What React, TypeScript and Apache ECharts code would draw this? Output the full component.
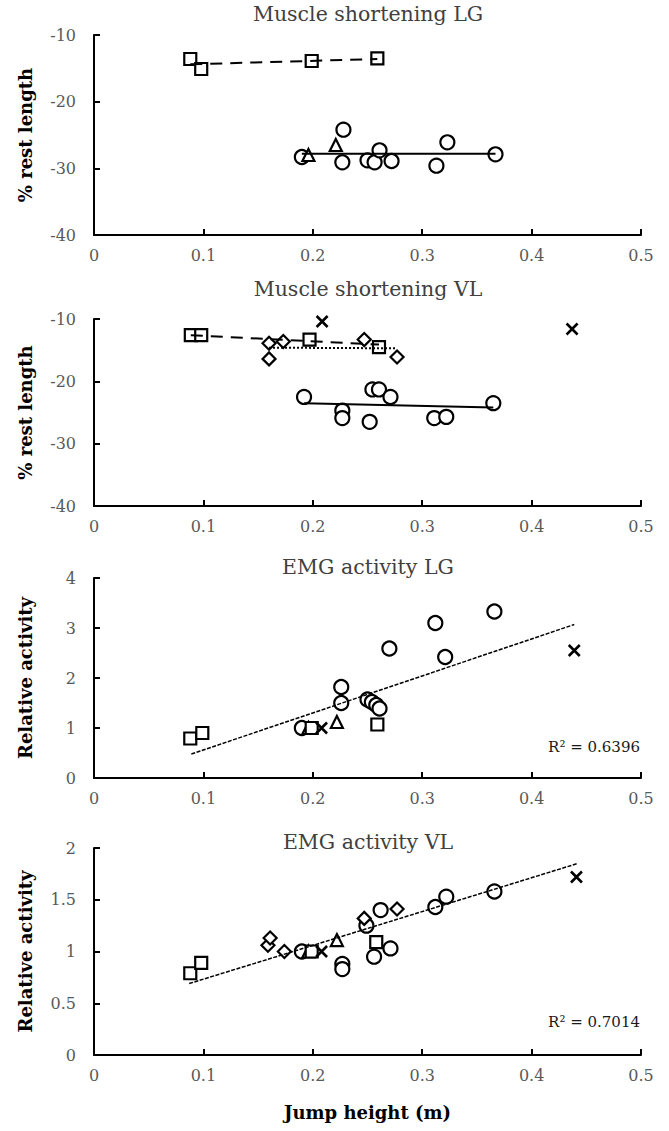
import React, { useEffect, useRef } from "react";
import * as echarts from "echarts";

// ---- Data ----
const PANEL_TITLES = ["Muscle shortening LG", "Muscle shortening VL", "EMG activity LG", "EMG activity VL"];
const Y_NAMES = ["% rest length", "% rest length", "Relative activity", "Relative activity"];
const X_NAME = "Jump height (m)";
const R2_LABELS = ["R² = 0.6396", "R² = 0.7014"];

// Panel 1: Muscle shortening LG
const lgShortSquares = [[0.088, -13.6], [0.098, -15.1], [0.199, -13.9], [0.259, -13.5]];
const lgShortCircles = [[0.19, -28.3], [0.228, -24.2], [0.227, -29.1], [0.25, -28.8], [0.2565, -29.1], [0.261, -27.3], [0.272, -28.9], [0.313, -29.6], [0.323, -26.1], [0.367, -27.9]];
const lgShortTriangles = [[0.196, -28.0], [0.221, -26.5]];
const lgShortSquareTrend = [[0.088, -14.4], [0.259, -13.6]];
const lgShortCircleTrend = [[0.19, -27.8], [0.367, -27.8]];

// Panel 2: Muscle shortening VL
const vlShortSquares = [[0.0885, -12.6], [0.098, -12.6], [0.197, -13.3], [0.2605, -14.5]];
const vlShortCircles = [[0.192, -22.5], [0.227, -24.7], [0.227, -25.9], [0.252, -26.5], [0.2545, -21.3], [0.2605, -21.3], [0.271, -22.5], [0.311, -25.9], [0.322, -25.7], [0.365, -23.5]];
const vlShortDiamonds = [[0.16, -13.9], [0.16, -16.4], [0.173, -13.6], [0.247, -13.3], [0.277, -16.1]];
const vlShortCrosses = [[0.2085, -10.4], [0.437, -11.6]];
const vlShortSquareTrend = [[0.0885, -12.6], [0.2605, -14.1]];
const vlShortDiamondTrend = [[0.16, -14.6], [0.277, -14.7]];
const vlShortCircleTrend = [[0.192, -23.5], [0.365, -24.2]];

// Panel 3: EMG activity LG
const lgEmgSquares = [[0.088, 0.79], [0.099, 0.9], [0.199, 1.0], [0.259, 1.07]];
const lgEmgCircles = [[0.19, 1.0], [0.226, 1.82], [0.226, 1.5], [0.25, 1.57], [0.254, 1.52], [0.258, 1.46], [0.261, 1.39], [0.27, 2.59], [0.312, 3.1], [0.321, 2.42], [0.366, 3.33]];
const lgEmgTriangles = [[0.196, 1.0], [0.222, 1.12]];
const lgEmgCrosses = [[0.208, 1.0], [0.439, 2.55]];
const lgEmgTrend = [[0.089, 0.48], [0.439, 3.07]];

// Panel 4: EMG activity VL
const vlEmgSquares = [[0.088, 0.79], [0.098, 0.89], [0.199, 1.0], [0.258, 1.09]];
const vlEmgCircles = [[0.19, 1.0], [0.227, 0.88], [0.227, 0.83], [0.249, 1.25], [0.256, 0.95], [0.262, 1.4], [0.271, 1.03], [0.312, 1.43], [0.322, 1.53], [0.366, 1.58]];
const vlEmgTriangles = [[0.196, 1.0], [0.222, 1.11]];
const vlEmgDiamonds = [[0.159, 1.06], [0.161, 1.13], [0.174, 1.0], [0.247, 1.32], [0.277, 1.41]];
const vlEmgCrosses = [[0.208, 1.0], [0.441, 1.72]];
const vlEmgTrend = [[0.087, 0.69], [0.442, 1.85]];

// ---- Styling ----
const SERIF = "DejaVu Serif";
const GRIDS = [
  { left: 94, width: 547, top: 35, height: 200 },
  { left: 94, width: 547, top: 319, height: 187 },
  { left: 94, width: 547, top: 578, height: 200 },
  { left: 94, width: 547, top: 848, height: 207 },
];
const Y_RANGES = [
  { min: -40, max: -10, interval: 10 },
  { min: -40, max: -10, interval: 10 },
  { min: 0, max: 4, interval: 1 },
  { min: 0, max: 2, interval: 0.5 },
];
const TITLE_Y = [14, 289, 567, 842];
const R2_Y = [747, 1022];

const CROSS = "path://M0,0L10,10M10,0L0,10";

function scatter(idx: number, data: number[][], symbol: string, size: number) {
  const isCross = symbol === CROSS;
  return {
    type: "scatter",
    xAxisIndex: idx,
    yAxisIndex: idx,
    data,
    symbol,
    symbolSize: size,
    z: 2,
    itemStyle: {
      color: isCross ? "none" : "#ffffff",
      borderColor: "#000000",
      borderWidth: isCross ? 2.6 : 2.2,
      opacity: 1,
    },
  };
}

function trend(idx: number, data: number[][], type: any, width: number) {
  return {
    type: "line",
    xAxisIndex: idx,
    yAxisIndex: idx,
    data,
    symbol: "none",
    showSymbol: false,
    z: 3,
    lineStyle: { color: "#000000", width, type },
  };
}

export default function App() {
  const ref = useRef<HTMLDivElement>(null);
  useEffect(() => {
    if (!ref.current) return;
    const chart = echarts.init(ref.current, undefined, { renderer: "svg" });
    const fmt = (v: number) => String(Math.round(v * 10) / 10);
    const option: any = {
      animation: false,
      backgroundColor: "#ffffff",
      grid: GRIDS.map((g) => ({ ...g, containLabel: false })),
      xAxis: GRIDS.map((_, i) => ({
        type: "value",
        gridIndex: i,
        min: 0,
        max: 0.5,
        interval: 0.1,
        splitLine: { show: false },
        axisLine: { show: true, onZero: false, lineStyle: { color: "#000", width: 2 } },
        axisTick: { show: true, inside: true, length: 6, lineStyle: { color: "#000", width: 2 } },
        axisLabel: { color: "#595959", fontFamily: SERIF, fontSize: 16, margin: 12, formatter: fmt },
        name: i === 3 ? X_NAME : "",
        nameLocation: "middle",
        nameGap: 48,
        nameTextStyle: { fontFamily: SERIF, fontWeight: "bold", fontSize: 18, color: "#000" },
      })),
      yAxis: GRIDS.map((_, i) => ({
        type: "value",
        gridIndex: i,
        ...Y_RANGES[i],
        splitLine: { show: false },
        axisLine: { show: true, onZero: false, lineStyle: { color: "#000", width: 2 } },
        axisTick: { show: true, inside: true, length: 6, lineStyle: { color: "#000", width: 2 } },
        axisLabel: { color: "#595959", fontFamily: SERIF, fontSize: 16, margin: 18, formatter: fmt },
        name: Y_NAMES[i],
        nameLocation: "middle",
        nameGap: 60,
        nameTextStyle: { fontFamily: SERIF, fontWeight: "bold", fontSize: 18, color: "#000" },
      })),
      graphic: [
        ...PANEL_TITLES.map((t, i) => ({
          type: "text",
          x: 368,
          y: TITLE_Y[i],
          style: { text: t, align: "center", verticalAlign: "middle", font: `20.5px "${SERIF}"`, fill: "#404040" },
        })),
        ...R2_LABELS.map((t, i) => ({
          type: "text",
          x: 640,
          y: R2_Y[i],
          style: { text: t, align: "right", verticalAlign: "middle", font: `15px "${SERIF}"`, fill: "#1a1a1a" },
        })),
      ],
      series: [
        scatter(0, lgShortCircles, "circle", 14),
        scatter(0, lgShortTriangles, "triangle", 12),
        scatter(0, lgShortSquares, "rect", 12),
        trend(0, lgShortSquareTrend, [12, 8], 2),
        trend(0, lgShortCircleTrend, "solid", 2),

        scatter(1, vlShortCircles, "circle", 14),
        scatter(1, vlShortDiamonds, "diamond", 13),
        scatter(1, vlShortSquares, "rect", 12),
        scatter(1, vlShortCrosses, CROSS, 11),
        trend(1, vlShortSquareTrend, [12, 8], 2),
        trend(1, vlShortDiamondTrend, [2, 2], 2),
        trend(1, vlShortCircleTrend, "solid", 2),

        scatter(2, lgEmgCircles, "circle", 14),
        scatter(2, lgEmgTriangles, "triangle", 12),
        scatter(2, lgEmgSquares, "rect", 12),
        scatter(2, lgEmgCrosses, CROSS, 11),
        trend(2, lgEmgTrend, [4, 1.5], 1.5),

        scatter(3, vlEmgCircles, "circle", 14),
        scatter(3, vlEmgDiamonds, "diamond", 13),
        scatter(3, vlEmgTriangles, "triangle", 12),
        scatter(3, vlEmgSquares, "rect", 12),
        scatter(3, vlEmgCrosses, CROSS, 11),
        trend(3, vlEmgTrend, [4, 1.5], 1.5),
      ],
    };
    chart.setOption(option);
    return () => chart.dispose();
  }, []);
  return (
    <div
      ref={ref}
      style={{ position: "fixed", left: 0, top: 0, width: 669, height: 1131, background: "#fff" }}
    />
  );
}
